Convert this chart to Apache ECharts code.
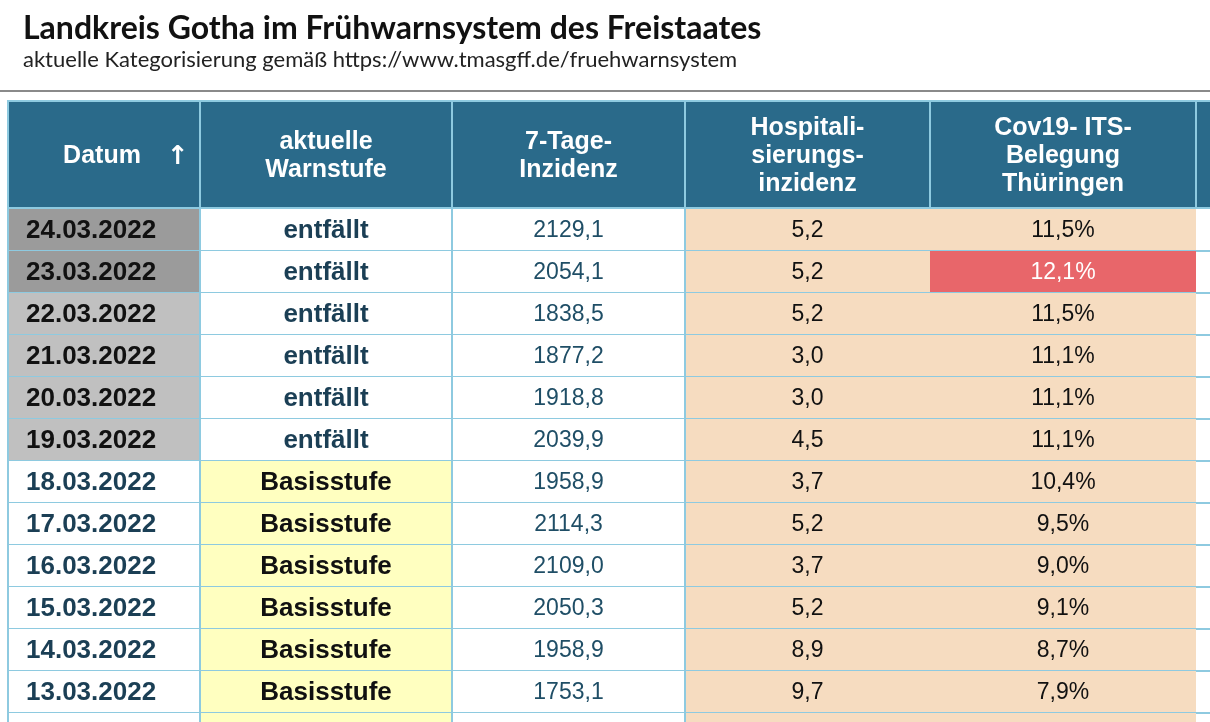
<!DOCTYPE html>
<html>
<head>
<meta charset="utf-8">
<script src="https://cdn.jsdelivr.net/npm/echarts@6/dist/echarts.min.js"></script>
<style>html,body{margin:0;padding:0;background:#fff}#c{width:1210px;height:722px}</style>
</head>
<body>
<div id="c"></div>
<script>
// table data
const headers = [['Datum'], ['aktuelle', 'Warnstufe'], ['7-Tage-', 'Inzidenz'], ['Hospitali-', 'sierungs-', 'inzidenz'], ['Cov19- ITS-', 'Belegung', 'Thüringen'], ['']];
const dates = ['24.03.2022', '23.03.2022', '22.03.2022', '21.03.2022', '20.03.2022', '19.03.2022', '18.03.2022', '17.03.2022', '16.03.2022', '15.03.2022', '14.03.2022', '13.03.2022', ''];
const stufe = ['entfällt', 'entfällt', 'entfällt', 'entfällt', 'entfällt', 'entfällt', 'Basisstufe', 'Basisstufe', 'Basisstufe', 'Basisstufe', 'Basisstufe', 'Basisstufe', ''];
const inzidenz = ['2129,1', '2054,1', '1838,5', '1877,2', '1918,8', '2039,9', '1958,9', '2114,3', '2109,0', '2050,3', '1958,9', '1753,1', ''];
const hosp = ['5,2', '5,2', '5,2', '3,0', '3,0', '4,5', '3,7', '5,2', '3,7', '5,2', '8,9', '9,7', ''];
const its = ['11,5%', '12,1%', '11,5%', '11,1%', '11,1%', '11,1%', '10,4%', '9,5%', '9,0%', '9,1%', '8,7%', '7,9%', ''];

// layout (column edges in px)
const colEdges = [8, 200, 452, 685, 930, 1196, 1260];
const BLUE = '#2a6a8a', LINE = '#8ecae0', PEACH = '#f6dcc0', YELLOW = '#ffffc0';
const ROW_H = 42, TOP = 209;

const rowIdx = dates.map((d, i) => i);
const chart = echarts.init(document.getElementById('c'));

function cell(api, x0, x1, y, h, fill, text, opt) {
  const a = api.coord([x0, y]), b = api.coord([x1, y]);
  const top = a[1] - h / 2;
  const els = [{ type: 'rect', shape: { x: a[0], y: top, width: b[0] - a[0], height: h }, style: { fill: fill } }];
  if (text) {
    els.push({
      type: 'text',
      style: {
        text: text, x: opt.align === 'left' ? a[0] + 18 : (a[0] + b[0]) / 2, y: a[1] + 1,
        align: opt.align || 'center', verticalAlign: 'middle',
        font: (opt.bold ? 'bold 26px ' : '23px ') + '"Liberation Sans", Arial, sans-serif',
        fill: opt.color
      }
    });
  }
  return els;
}

chart.setOption({
  animation: false,
  title: {
    text: 'Landkreis Gotha im Frühwarnsystem des Freistaates',
    subtext: 'aktuelle Kategorisierung gemäß https://www.tmasgff.de/fruehwarnsystem',
    left: 18, top: 8, itemGap: 4,
    textStyle: { fontFamily: 'Lato', fontWeight: 'bold', fontSize: 32, color: '#111' },
    subtextStyle: { fontFamily: 'Lato', fontSize: 22, color: '#222' }
  },
  grid: { left: 0, top: TOP, width: 1210, bottom: 0 },
  xAxis: { type: 'value', min: 0, max: 1210, show: false },
  yAxis: { type: 'value', min: 0, max: (722 - TOP) / ROW_H, inverse: true, show: false },
  graphic: [
    { type: 'rect', shape: { x: 0, y: 90, width: 1210, height: 2 }, style: { fill: '#8a8a8a' } },
    { type: 'rect', shape: { x: 8, y: 101, width: 1250, height: 107 }, style: { fill: BLUE, stroke: LINE, lineWidth: 2 } },
    ...colEdges.slice(1, -1).map(x => ({ type: 'rect', shape: { x: x - 1, y: 101, width: 2, height: 107 }, style: { fill: LINE } })),
    ...headers.map((lines, c) => ({
      type: 'text',
      style: {
        text: lines.join('\n'), x: c === 0 ? 102 : (colEdges[c] + colEdges[c + 1]) / 2, y: 156,
        align: 'center', verticalAlign: 'middle', lineHeight: 28,
        font: 'bold 25px "Liberation Sans", Arial, sans-serif', fill: '#fff'
      }
    })),
    { type: 'text', style: { text: '↑', x: 178, y: 157, align: 'center', verticalAlign: 'middle', font: 'bold 26px "DejaVu Sans", sans-serif', fill: '#fff' } }
  ],
  series: [{
    type: 'custom',
    clip: true,
    data: rowIdx.map(i => [0, i]),
    encode: { x: 0, y: 1 },
    renderItem: function (params, api) {
      const i = api.value(1);
      const y = i + 0.5;
      const h = api.size([0, 1])[1];
      const dateFill = i < 2 ? '#9b9b9b' : i < 6 ? '#c0c0c0' : '#ffffff';
      const gray = i < 6;
      const basis = i >= 6;
      const e = colEdges;
      let els = [];
      els = els.concat(cell(api, e[0], e[1], y, h, dateFill, dates[i], { bold: true, align: 'left', color: gray ? '#111' : '#1b3f55' }));
      els = els.concat(cell(api, e[1], e[2], y, h, basis ? YELLOW : '#fff', stufe[i], { bold: true, color: basis ? '#111' : '#1b3f55' }));
      els = els.concat(cell(api, e[2], e[3], y, h, '#fff', inzidenz[i], { color: '#1f4e66' }));
      els = els.concat(cell(api, e[3], e[4], y, h, PEACH, hosp[i], { color: '#111' }));
      const red = i === 1;
      els = els.concat(cell(api, e[4], e[5], y, h, red ? '#e8666a' : PEACH, its[i], { color: red ? '#fff' : '#111' }));
      const c = api.coord([0, y]);
      const top = c[1] - h / 2;
      // grid lines
      els.push({ type: 'rect', shape: { x: 8, y: top + h - 1, width: 1202, height: 2 }, style: { fill: LINE } });
      [e[0], e[1], e[2], e[3]].forEach(x => els.push({ type: 'rect', shape: { x: x - 1, y: top, width: 2, height: h }, style: { fill: LINE } }));
      return { type: 'group', children: els };
    }
  }]
});
</script>
</body>
</html>
